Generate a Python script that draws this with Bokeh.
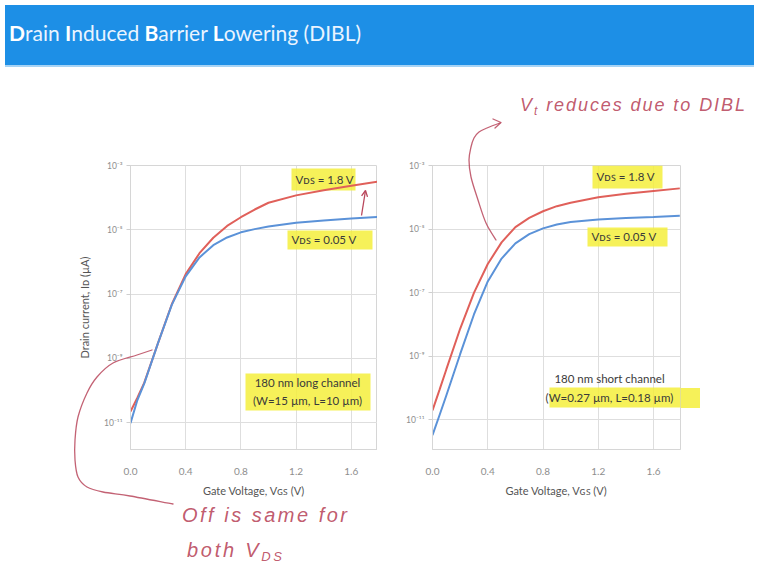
from bokeh.plotting import figure
from bokeh.models import (Range1d, FixedTicker, CustomJSTickFormatter, PrintfTickFormatter,
                          Label, BoxAnnotation, Arrow, OpenHead, Div)
from bokeh.layouts import column, row
from bokeh.embed import file_html
from bokeh.resources import INLINE

# ---------------- data (log10 of drain current) ----------------
vgs = [0.0, 0.05, 0.1, 0.2, 0.3, 0.4, 0.5, 0.6, 0.7, 0.8, 0.9, 1.0, 1.2, 1.4, 1.6, 1.79]
long_vds18 = [-10.66, -10.23, -9.76, -8.52, -7.31, -6.38, -5.73, -5.25, -4.88, -4.61, -4.37, -4.16, -3.93, -3.77, -3.63, -3.50]
long_vds005 = [-11.02, -10.30, -9.78, -8.52, -7.33, -6.45, -5.86, -5.48, -5.24, -5.08, -4.98, -4.90, -4.78, -4.71, -4.65, -4.60]
short_vds18 = [-10.71, -10.07, -9.42, -8.14, -7.01, -6.10, -5.42, -4.94, -4.65, -4.44, -4.28, -4.17, -4.00, -3.89, -3.80, -3.72]
short_vds005 = [-11.49, -10.87, -10.24, -8.94, -7.69, -6.65, -5.93, -5.45, -5.16, -4.98, -4.86, -4.78, -4.70, -4.65, -4.62, -4.58]

x_ticks = [0.0, 0.4, 0.8, 1.2, 1.6]
y_ticks = [1e-11, 1e-9, 1e-7, 1e-5, 1e-3]

RED = "#e0605a"
BLUE = "#5b92d8"
INK = "#b9475c"
HL = "#f4ee3c"
TXT = "#3a3a3a"
FONT = "Lato"

sup_code = """
const m = {'-':'\u207b','0':'\u2070','1':'\u00b9','2':'\u00b2','3':'\u00b3','4':'\u2074',
           '5':'\u2075','6':'\u2076','7':'\u2077','8':'\u2078','9':'\u2079'};
const e = Math.round(Math.log10(tick));
return '10' + String(e).split('').map(c => m[c]).join('');
"""


def make_fig(width, height, bl, br, bt, bb, xmax, ymin_log, ylabel):
    p = figure(width=width, height=height, x_range=Range1d(0, xmax),
               y_range=Range1d(10 ** ymin_log, 1e-3), y_axis_type="log",
               output_backend="svg", toolbar_location=None,
               min_border_left=bl, min_border_right=br, min_border_top=bt, min_border_bottom=bb)
    p.title.visible = False
    p.outline_line_color = "#d6d6d6"
    p.background_fill_color = "white"
    p.border_fill_color = "white"
    p.xaxis.ticker = FixedTicker(ticks=x_ticks, minor_ticks=[])
    p.xaxis.formatter = PrintfTickFormatter(format="%.1f")
    p.yaxis.ticker = FixedTicker(ticks=y_ticks, minor_ticks=[])
    p.yaxis.formatter = CustomJSTickFormatter(code=sup_code)
    p.xgrid.ticker = FixedTicker(ticks=x_ticks, minor_ticks=[])
    p.ygrid.ticker = FixedTicker(ticks=y_ticks, minor_ticks=[])
    p.grid.grid_line_color = "#dedede"
    for ax in (p.xaxis, p.yaxis):
        ax.axis_line_color = "#d6d6d6"
        ax.minor_tick_line_color = None
        ax.major_label_text_color = "#8e8e8e"
        ax.major_label_text_font = FONT
        ax.axis_label_text_font = FONT
        ax.axis_label_text_font_style = "normal"
        ax.axis_label_text_color = "#555555"
        ax.axis_label_text_font_size = "11px"
    p.xaxis.major_tick_line_color = None
    p.xaxis.major_label_standoff = 12
    p.xaxis.major_label_text_font_size = "10px"
    p.xaxis.axis_label = "Gate Voltage, V\u0262\ua731 (V)"
    p.xaxis.axis_label_standoff = 6
    p.yaxis.major_tick_line_color = "#cfcfcf"
    p.yaxis.major_tick_out = 4
    p.yaxis.major_tick_in = 0
    p.yaxis.major_label_standoff = 4
    p.yaxis.major_label_text_font_size = "8.5px"
    if ylabel:
        p.yaxis.axis_label = ylabel
        p.yaxis.axis_label_standoff = 10
    return p


# page geometry: title bar 62px high, then two figures 493px high
left = make_fig(377, 493, 130, 0, 93, 116, 1.79, -11.84, "Drain current, I\u1d05 (\u00b5A)")
right = make_fig(372, 493, 55, 69, 93, 113, 1.795, -11.94, None)

left.line(vgs, [10 ** v for v in long_vds18], line_color=RED, line_width=2)
left.line(vgs, [10 ** v for v in long_vds005], line_color=BLUE, line_width=2)
right.line(vgs, [10 ** v for v in short_vds18], line_color=RED, line_width=2)
right.line(vgs, [10 ** v for v in short_vds005], line_color=BLUE, line_width=2)

# frame origins in picture coordinates (left, bottom)
FRAMES = {id(left): (131, 447), id(right): (433, 450)}


def sx(p, x):
    return x - FRAMES[id(p)][0]


def sy(p, y):
    return FRAMES[id(p)][1] - y


def hl(p, x0, x1, y0, y1):
    p.add_layout(BoxAnnotation(left=sx(p, x0), right=sx(p, x1), top=sy(p, y0), bottom=sy(p, y1),
                               left_units="screen", right_units="screen", top_units="screen",
                               bottom_units="screen", fill_color=HL, fill_alpha=0.85,
                               line_color=None, level="underlay"))


def txt(p, x, y, s, size="11.5px", align="left"):
    p.add_layout(Label(x=sx(p, x), y=sy(p, y), x_units="screen", y_units="screen", text=s,
                       text_align=align, text_baseline="middle", text_font_size=size,
                       text_color=TXT, text_font=FONT))


# ---------------- in-plot labels ----------------
hl(left, 292, 356, 166, 188)
txt(left, 296, 177, "V\u1d05\ua731 = 1.8 V")
hl(left, 288, 373, 228, 247)
txt(left, 292, 237, "V\u1d05\ua731 = 0.05 V")
hl(left, 246, 371, 371, 408)
txt(left, 308, 380, "180 nm long channel", align="center")
txt(left, 308, 398, "(W=15 \u00b5m, L=10 \u00b5m)", align="center")
left.add_layout(Arrow(x_start=sx(left, 362), y_start=sy(left, 213), x_end=sx(left, 366),
                      y_end=sy(left, 188), start_units="screen", end_units="screen",
                      end=OpenHead(size=6, line_color=INK, line_width=1.3),
                      line_color=INK, line_width=1.3))

hl(right, 593, 663, 166, 189)
txt(right, 597, 177, "V\u1d05\ua731 = 1.8 V")
hl(right, 588, 668, 228, 247)
txt(right, 592, 237, "V\u1d05\ua731 = 0.05 V")
hl(right, 550, 700, 388, 408)
txt(right, 610, 379, "180 nm short channel", align="center")
txt(right, 610, 398, "(W=0.27 \u00b5m, L=0.18 \u00b5m)", align="center")

# ---------------- hand-written ink overlay (picture coordinates) ----------------
OX, OY = 5, 5


def smooth_path(pts):
    q = [(x - OX, y - OY) for x, y in pts]
    d = "M%.1f,%.1f" % q[0]
    for i in range(len(q) - 1):
        p0 = q[i - 1] if i > 0 else q[i]
        p1, p2 = q[i], q[i + 1]
        p3 = q[i + 2] if i + 2 < len(q) else q[i + 1]
        c1 = (p1[0] + (p2[0] - p0[0]) / 6, p1[1] + (p2[1] - p0[1]) / 6)
        c2 = (p2[0] - (p3[0] - p1[0]) / 6, p2[1] - (p3[1] - p1[1]) / 6)
        d += " C%.1f,%.1f %.1f,%.1f %.1f,%.1f" % (c1 + c2 + p2)
    return d


ink_left = [(152, 350), (137, 355), (113, 363), (97, 377), (87, 393), (78, 417), (75, 440),
            (75, 460), (78, 477), (87, 487), (103, 492), (130, 496), (173, 504)]
ink_right = [(496, 240), (486, 223), (478, 200), (471, 177), (469, 160), (471, 147), (474, 138),
             (479, 132), (487, 128), (500, 123)]
head_right = [(493, 119), (501, 122.5), (495, 128)]


def t(x, y, body, width, size):
    return ('<text x="%.1f" y="%.1f" textLength="%d" lengthAdjust="spacing" '
            'font-family="DejaVu Serif" font-style="italic" font-size="%d" fill="%s" '
            'fill-opacity="0.9">%s</text>'
            % (x - OX, y - OY, width, size, INK, body))


svg = (
    '<svg xmlns="http://www.w3.org/2000/svg" width="749" height="555" '
    'style="position:absolute;left:0;top:0;overflow:visible">'
    '<rect x="%d" y="%d" width="19" height="20" fill="%s" fill-opacity="0.85"/>' % (681 - OX, 388 - OY, HL)
    + '<g fill="none" stroke="%s" stroke-width="1.3" stroke-linecap="round" stroke-linejoin="round" '
      'stroke-opacity="0.85">' % INK
    + '<path d="%s"/>' % smooth_path(ink_left)
    + '<path d="%s"/>' % smooth_path(ink_right)
    + '<polyline points="%s"/>' % " ".join("%.1f,%.1f" % (x - OX, y - OY) for x, y in head_right)
    + '</g>'
    + t(182, 522, 'Off is same for', 165, 20)
    + t(187, 557, 'both V<tspan font-size="13" dy="4">DS</tspan>', 95, 20)
    + t(520, 111, 'V<tspan font-size="12" dy="4">t</tspan><tspan dy="-4"> reduces due to DIBL</tspan>',
        225, 18)
    + '</svg>'
)

overlay = Div(text=svg, width=749, height=555,
              styles={"position": "absolute", "left": "0px", "top": "0px", "z-index": "10",
                      "pointer-events": "none"})

title = Div(text=(
    '<div style="width:749px;height:62px;box-sizing:border-box;background:#1d8fe6;'
    'border-bottom:2px solid #a6d3f5;color:#eaf4ff;font-family:Lato,sans-serif;font-size:21px;'
    'line-height:56px;padding-left:4px;white-space:nowrap;">'
    '<b style="color:#ffffff">D</b>rain <b style="color:#ffffff">I</b>nduced '
    '<b style="color:#ffffff">B</b>arrier <b style="color:#ffffff">L</b>owering (DIBL)</div>'),
    width=749, height=62)

page = column(title, row(left, right), overlay)

with open("out.html", "w") as f:
    f.write(file_html(page, INLINE, title="DIBL"))
